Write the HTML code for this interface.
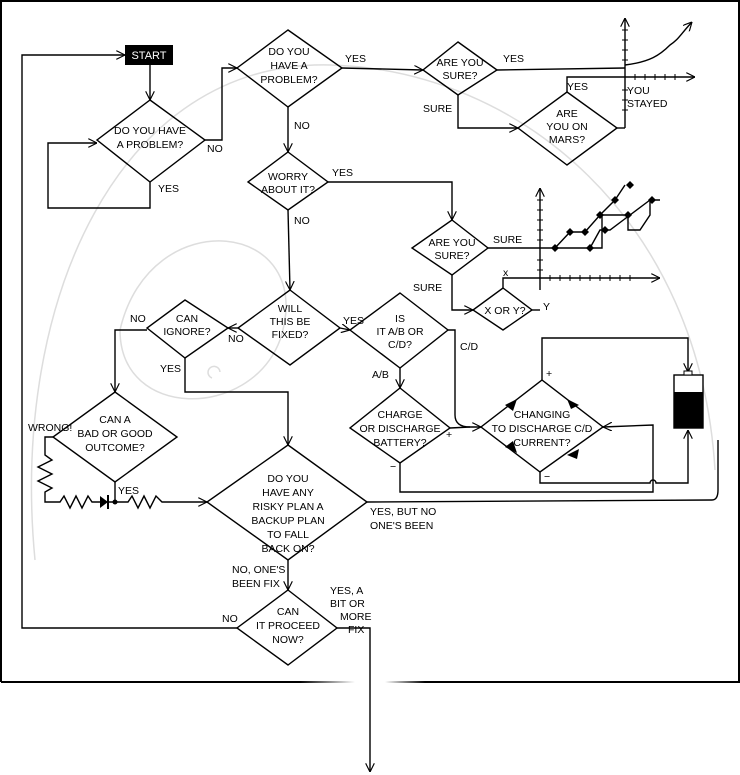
<!DOCTYPE html>
<html><head><meta charset="utf-8"><style>
html,body{margin:0;padding:0;background:#fff;}
svg{display:block;}
text{font-family:"Liberation Sans",sans-serif;font-size:10.5px;fill:#000;}
</style></head><body>
<svg width="740" height="775" viewBox="0 0 740 775" xmlns="http://www.w3.org/2000/svg">
<defs>
<marker id="a" viewBox="0 0 10 10" refX="10" refY="5" markerWidth="9" markerHeight="9" orient="auto" markerUnits="userSpaceOnUse"><path d="M0,0 L10,5 L0,10" fill="none" stroke="#000" stroke-width="1.3"/></marker>
<linearGradient id="gl" x1="0" x2="1"><stop offset="0" stop-color="#000"/><stop offset="1" stop-color="#fff"/></linearGradient>
<linearGradient id="gr" x1="0" x2="1"><stop offset="0" stop-color="#fff"/><stop offset="1" stop-color="#000"/></linearGradient>
</defs>
<g fill="none" stroke="#ddd" stroke-width="1.5">
<path d="M35 560 C 10 300, 120 60, 330 65 C 520 70, 700 220, 715 470"/>
<path d="M120 330 C 150 200, 320 220, 280 340 C 250 420, 120 420, 120 330"/>
<path d="M212 378 a6 6 0 1 1 8 -6"/>
</g>
<g stroke="#000" stroke-width="2" fill="none">
<path d="M1 682 L1 1 L739 1 L739 682 L390 682"/>
<path d="M1 682 L300 682"/>
</g>
<rect x="300" y="681" width="55" height="2" fill="url(#gl)"/>
<rect x="385" y="681" width="40" height="2" fill="url(#gr)"/>
<g stroke="#000" stroke-width="1.4" fill="none">
<path d="M150 100 L205 140 L150 182 L97 140 Z"/>
<path d="M288 30 L342 68 L288 107 L237 68 Z"/>
<path d="M458 42 L497 70 L458 95 L423 70 Z"/>
<path d="M567 92 L617 128 L567 165 L518 128 Z"/>
<path d="M288 152 L328 182 L288 210 L248 182 Z"/>
<path d="M452 220 L488 248 L452 275 L412 248 Z"/>
<path d="M503 288 L532 310 L503 330 L473 310 Z"/>
<path d="M290 290 L340 328 L290 365 L238 328 Z"/>
<path d="M185 300 L228 328 L185 358 L147 328 Z"/>
<path d="M400 293 L448 330 L400 368 L350 330 Z"/>
<path d="M115 392 L177 437 L115 482 L53 437 Z"/>
<path d="M288 445 L367 502 L288 560 L207 502 Z"/>
<path d="M400 388 L450 428 L400 463 L350 428 Z"/>
<path d="M542 380 L603 427 L540 472 L481 427 Z"/>
<path d="M288 590 L337 628 L288 665 L237 628 Z"/>
<path d="M150 65 L150 100" marker-end="url(#a)"/>
<path d="M150 182 L150 208 L48 208 L48 143 L97 143" marker-end="url(#a)"/>
<path d="M205 140 L222 140 L222 68 L237 68" marker-end="url(#a)"/>
<path d="M342 68 L423 70" marker-end="url(#a)"/>
<path d="M497 70 L625 68"/>
<path d="M458 95 L458 128 L518 128" marker-end="url(#a)"/>
<path d="M288 107 L288 152" marker-end="url(#a)"/>
<path d="M328 182 L452 182 L452 220" marker-end="url(#a)"/>
<path d="M288 210 L290 290" marker-end="url(#a)"/>
<path d="M452 275 L452 310 L473 310" marker-end="url(#a)"/>
<path d="M238 328 L228 328" marker-end="url(#a)"/>
<path d="M340 328 L350 330" marker-end="url(#a)"/>
<path d="M147 330 L115 330 L115 392" marker-end="url(#a)"/>
<path d="M185 358 L185 392 L288 392 L288 445" marker-end="url(#a)"/>
<path d="M400 368 L400 388" marker-end="url(#a)"/>
<path d="M448 330 L455 330 L455 415 Q455 427 470 427 L481 427" marker-end="url(#a)"/>
<path d="M450 428 L470 427"/>
<path d="M542 380 L542 338 L688 338 L688 372" marker-end="url(#a)"/>
<path d="M540 472 L540 483 L650 483 a3 3 0 0 1 6 0 L688 483 L688 430" marker-end="url(#a)"/>
<path d="M400 463 L400 492 L653 492 L653 425 L603 427" marker-end="url(#a)"/>
<path d="M367 502 L712 500 Q718 500 718 490 L718 440"/>
<path d="M288 560 L288 590" marker-end="url(#a)"/>
<path d="M237 628 L22 628 L22 55 L125 55" marker-end="url(#a)"/>
<path d="M337 628 L370 628 L370 772" marker-end="url(#a)"/>
<path d="M53 437 L45 437 L45 455 L52 460 L38 467 L52 474 L38 481 L52 488 L45 492 L45 502 L60 502 L64 496 L70 508 L76 496 L82 508 L88 496 L92 502 L100 502"/>
<path d="M108 502 L115 502 L115 482"/>
<path d="M115 502 L128 502 L132 496 L138 508 L144 496 L150 508 L156 496 L162 502 L207 502" marker-end="url(#a)"/>
<path d="M625 128 L625 18" marker-end="url(#a)"/>
<path d="M567 92 L567 77 L695 77" marker-end="url(#a)"/>
<path d="M617 128 L625 128"/>
<path d="M625 65 C 650 62, 660 55, 670 45 C 678 40, 680 35, 692 22" marker-end="url(#a)"/>
<path d="M540 290 L540 188" marker-end="url(#a)"/>
<path d="M503 288 L503 278 L660 278" marker-end="url(#a)"/>
<path d="M532 310 L540 310"/>
<path d="M488 248 L555 248 L590 248 L600 230 L610 230 L630 215 L650 200 M555 248 L570 232 L585 232 L600 215 L615 200 L625 185 M590 248 L602 248 L602 215 L628 215 L628 230 L640 230 L650 215 L650 200 L660 200"/>
</g>
<g stroke="#000" stroke-width="1">
<path d="M622 30 H628 M622 40 H628 M622 50 H628 M622 60 H628 M622 90 H628 M622 100 H628 M622 110 H628 M635 74 V80 M645 74 V80 M655 74 V80 M665 74 V80 M675 74 V80"/>
<path d="M537 200 H543 M537 210 H543 M537 220 H543 M537 230 H543 M537 240 H543 M537 260 H543 M537 270 H543 M550 275 V281 M560 275 V281 M570 275 V281 M580 275 V281 M590 275 V281 M600 275 V281 M610 275 V281 M620 275 V281 M630 275 V281"/>
</g>
<g fill="#000">
<path d="M555 244 l4 4 l-4 4 l-4 -4z M570 228 l4 4 l-4 4 l-4 -4z M590 244 l4 4 l-4 4 l-4 -4z M585 228 l4 4 l-4 4 l-4 -4z M600 211 l4 4 l-4 4 l-4 -4z M628 211 l4 4 l-4 4 l-4 -4z M615 196 l4 4 l-4 4 l-4 -4z M605 226 l4 4 l-4 4 l-4 -4z M630 181 l4 4 l-4 4 l-4 -4z M652 196 l4 4 l-4 4 l-4 -4z"/>
<path d="M100 496 L108 502 L100 508 Z"/><rect x="107" y="495" width="2" height="14"/>
<circle cx="115" cy="502" r="2.5"/>
<path d="M505 405 l12 -6 l-4 12 Z M567 399 l12 6 l-8 4 Z M505 447 l8 -6 l4 12 Z M567 455 l12 -6 l-2 10 Z"/>
</g>
<rect x="674" y="375" width="29" height="53" fill="#fff" stroke="#000" stroke-width="1.4"/>
<rect x="674" y="392" width="29" height="36" fill="#000"/>
<rect x="684" y="371" width="8" height="4" fill="#fff" stroke="#000"/>
<rect x="125" y="45" width="48" height="20" fill="#000"/>
<text x="149" y="59" text-anchor="middle" style="fill:#fff;font-size:11px">START</text>
<g text-anchor="middle">
<text x="150" y="134">DO YOU HAVE</text><text x="150" y="148">A PROBLEM?</text>
<text x="289" y="55">DO YOU</text><text x="289" y="69">HAVE A</text><text x="289" y="83">PROBLEM?</text>
<text x="460" y="66">ARE YOU</text><text x="460" y="79">SURE?</text>
<text x="567" y="117">ARE</text><text x="567" y="130">YOU ON</text><text x="567" y="143">MARS?</text>
<text x="288" y="180">WORRY</text><text x="288" y="193">ABOUT IT?</text>
<text x="452" y="246">ARE YOU</text><text x="452" y="259">SURE?</text>
<text x="505" y="314">X OR Y?</text>
<text x="290" y="312">WILL</text><text x="290" y="325">THIS BE</text><text x="290" y="338">FIXED?</text>
<text x="187" y="322">CAN</text><text x="187" y="335">IGNORE?</text>
<text x="400" y="322">IS</text><text x="400" y="335">IT A/B OR</text><text x="400" y="348">C/D?</text>
<text x="115" y="423">CAN A</text><text x="115" y="437">BAD OR GOOD</text><text x="115" y="451">OUTCOME?</text>
<text x="288" y="482">DO YOU</text><text x="288" y="496">HAVE ANY</text><text x="288" y="510">RISKY PLAN A</text><text x="288" y="524">BACKUP PLAN</text><text x="288" y="538">TO FALL</text><text x="288" y="552">BACK ON?</text>
<text x="400" y="418">CHARGE</text><text x="400" y="432">OR DISCHARGE</text><text x="400" y="446">BATTERY?</text>
<text x="542" y="418">CHANGING</text><text x="542" y="432">TO DISCHARGE C/D</text><text x="542" y="446">CURRENT?</text>
<text x="288" y="615">CAN</text><text x="288" y="629">IT PROCEED</text><text x="288" y="643">NOW?</text>
</g>
<g>
<text x="207" y="152">NO</text><text x="158" y="192">YES</text>
<text x="345" y="62">YES</text><text x="294" y="129">NO</text>
<text x="503" y="62">YES</text><text x="423" y="112">SURE</text>
<text x="567" y="90">YES</text><text x="627" y="94">YOU</text><text x="627" y="107">STAYED</text>
<text x="332" y="176">YES</text><text x="294" y="224">NO</text>
<text x="493" y="243">SURE</text><text x="413" y="291">SURE</text>
<text x="503" y="276">x</text><text x="543" y="310">Y</text>
<text x="343" y="324">YES</text><text x="228" y="342">NO</text>
<text x="130" y="322">NO</text><text x="160" y="372">YES</text>
<text x="460" y="350">C/D</text><text x="372" y="378">A/B</text>
<text x="446" y="438">+</text><text x="390" y="470">−</text>
<text x="546" y="377">+</text><text x="544" y="480">−</text>
<text x="28" y="431">WRONG!</text><text x="118" y="494">YES</text>
<text x="370" y="515">YES, BUT NO</text><text x="370" y="529">ONE'S BEEN</text>
<text x="232" y="573">NO, ONE'S</text><text x="232" y="587">BEEN FIX</text>
<text x="330" y="594">YES, A</text><text x="330" y="607">BIT OR</text><text x="340" y="620">MORE</text><text x="348" y="633">FIX</text>
<text x="222" y="622">NO</text>
</g>
</svg>
</body></html>
